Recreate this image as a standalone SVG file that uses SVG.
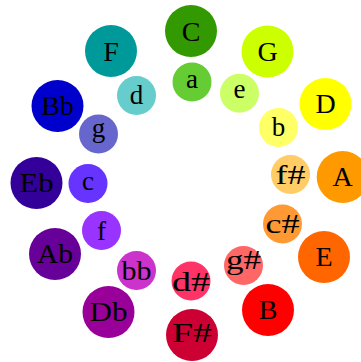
<svg xmlns="http://www.w3.org/2000/svg" width="361" height="362" viewBox="0 0 361 362">
<style>
text{font-family:"Liberation Serif","Times New Roman",serif;font-size:28px;fill:#000;text-anchor:middle}
.min text{font-size:27px}
</style>
<rect width="361" height="362" fill="#fff"/>
<g id="C"><circle cx="191" cy="31" r="26" fill="#339900"/><text x="191" y="40.5">C</text></g>
<g id="G"><circle cx="267.5" cy="51.5" r="26" fill="#ccff00"/><text x="267.5" y="60.5">G</text></g>
<g id="D"><circle cx="325.5" cy="104" r="26" fill="#ffff00"/><text x="325.5" y="113">D</text></g>
<g id="A"><circle cx="342.7" cy="177" r="26" fill="#ff9900"/><text x="342.7" y="186">A</text></g>
<g id="E"><circle cx="324" cy="257" r="26" fill="#ff6600"/><text x="324" y="266">E</text></g>
<g id="B"><circle cx="268" cy="310" r="26" fill="#ff0000"/><text x="268" y="319">B</text></g>
<g id="Fs"><circle cx="192" cy="335" r="26" fill="#cc0033"/><text x="192" y="342" textLength="40" lengthAdjust="spacingAndGlyphs">F#</text></g>
<g id="Db"><circle cx="108.5" cy="312" r="26" fill="#990099"/><text x="108.5" y="321" textLength="38" lengthAdjust="spacingAndGlyphs">Db</text></g>
<g id="Ab"><circle cx="55" cy="254" r="26" fill="#660099"/><text x="55" y="263" textLength="36" lengthAdjust="spacingAndGlyphs">Ab</text></g>
<g id="Eb"><circle cx="36.5" cy="183" r="26" fill="#330099"/><text x="36.5" y="192" textLength="34" lengthAdjust="spacingAndGlyphs">Eb</text></g>
<g id="Bb"><circle cx="57.5" cy="106" r="26" fill="#0000cc"/><text x="57.5" y="115">Bb</text></g>
<g id="F"><circle cx="111" cy="51" r="26" fill="#009999"/><text x="111" y="60.5">F</text></g>
<g class="min">
<g id="a"><circle cx="192" cy="82" r="19.5" fill="#66cc33"/><text x="192" y="88.3">a</text></g>
<g id="e"><circle cx="239.5" cy="93.3" r="19.5" fill="#ccff66"/><text x="239.5" y="97.5">e</text></g>
<g id="b"><circle cx="278.5" cy="127.5" r="19.5" fill="#ffff66"/><text x="278.5" y="135.7">b</text></g>
<g id="fs"><circle cx="290.5" cy="174.5" r="19.5" fill="#ffcc66"/><text x="290.5" y="184" textLength="30" lengthAdjust="spacingAndGlyphs">f#</text></g>
<g id="cs"><circle cx="282.5" cy="224" r="19.5" fill="#ff9933"/><text x="282.5" y="233.3" textLength="34" lengthAdjust="spacingAndGlyphs">c#</text></g>
<g id="gs"><circle cx="243.5" cy="265.5" r="19.5" fill="#ff6666"/><text x="243.5" y="268.5" textLength="35" lengthAdjust="spacingAndGlyphs">g#</text></g>
<g id="ds"><circle cx="191" cy="281" r="19.5" fill="#ff3366"/><text x="191" y="290.5" textLength="38" lengthAdjust="spacingAndGlyphs">d#</text></g>
<g id="bb"><circle cx="136.5" cy="270.5" r="19.5" fill="#cc33cc"/><text x="136.5" y="279.5" textLength="30" lengthAdjust="spacingAndGlyphs">bb</text></g>
<g id="f"><circle cx="101.5" cy="230.5" r="19.5" fill="#9933ff"/><text x="101.5" y="239.5">f</text></g>
<g id="c"><circle cx="88" cy="183.5" r="19.5" fill="#6633ff"/><text x="88" y="190">c</text></g>
<g id="g"><circle cx="98.5" cy="134" r="19.5" fill="#6666cc"/><text x="98.5" y="137">g</text></g>
<g id="d"><circle cx="136.5" cy="95.5" r="19.5" fill="#66cccc"/><text x="136.5" y="103.5">d</text></g>
</g>
</svg>
